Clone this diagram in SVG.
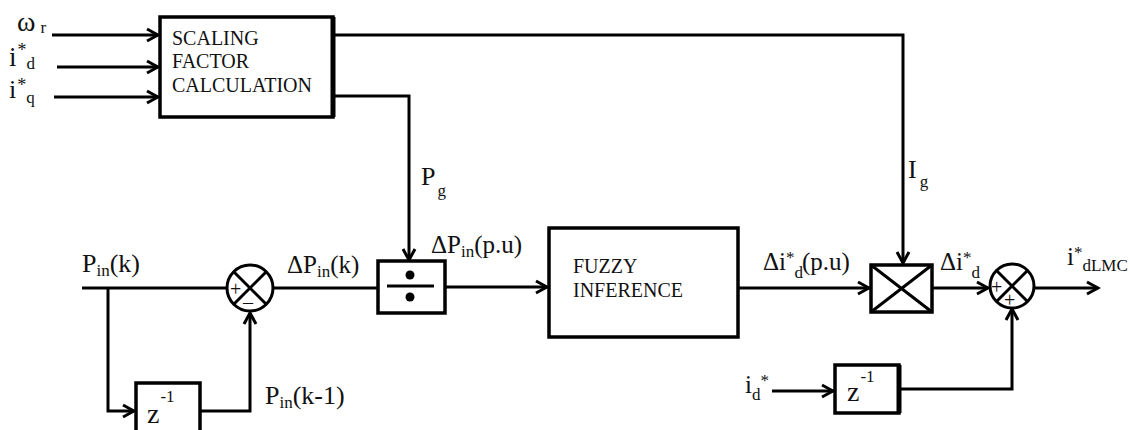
<svg xmlns="http://www.w3.org/2000/svg" width="1130" height="430" viewBox="0 0 1130 430" font-family="Liberation Serif, Times New Roman, Times, DejaVu Serif, serif">
<defs>
<marker id="arr" markerUnits="userSpaceOnUse" markerWidth="16" markerHeight="16" refX="13" refY="8" orient="auto" viewBox="0 0 16 16">
<path d="M2,2 L13,8 L2,14" fill="none" stroke="#000" stroke-width="3" stroke-linejoin="miter"/>
</marker>
</defs>
<style>
text{font-family:Liberation Serif, Times New Roman, Times, DejaVu Serif, serif;fill:#111}
.box{fill:#fff;stroke:#000;stroke-width:3.5}
.ln{fill:none;stroke:#000;stroke-width:3}
.blk{font-size:20px}
</style>
<rect width="1130" height="430" fill="#fff"/>
<g id="connectors">
<path class="ln" d="M52,35 H158" marker-end="url(#arr)"/>
<path class="ln" d="M57,67 H158" stroke-width="5" marker-end="url(#arr)"/>
<path class="ln" d="M54,97 H158" marker-end="url(#arr)"/>
<path class="ln" d="M333,35 H903 V263" marker-end="url(#arr)"/>
<path class="ln" d="M333,96 H409 V260" stroke-width="3.5" marker-end="url(#arr)"/>
<path class="ln" d="M82,288 H227"/>
<path class="ln" d="M108,288 V411 H134" marker-end="url(#arr)"/>
<path class="ln" d="M200,411 H250 V313" marker-end="url(#arr)"/>
<path class="ln" d="M273,288 H378"/>
<path class="ln" d="M445,287 H547" marker-end="url(#arr)"/>
<path class="ln" d="M738,288 H869" marker-end="url(#arr)"/>
<path class="ln" d="M932,288 H988" marker-end="url(#arr)"/>
<path class="ln" d="M1035,288 H1098" marker-end="url(#arr)"/>
<path class="ln" d="M772,391 H833" marker-end="url(#arr)"/>
<path class="ln" d="M899,389 H1012 V309" marker-end="url(#arr)"/>
</g>
<g id="inputs">
<text x="17" y="31" font-size="28px">ω<tspan font-size="17px" dx="5" dy="2">r</tspan></text>
<text x="9" y="66" font-size="27px">i<tspan font-size="18px" dx="1" dy="-10">*</tspan><tspan font-size="17px" dx="0" dy="13">d</tspan></text>
<text x="9" y="98" font-size="26px">i<tspan font-size="18px" dx="1" dy="-7">*</tspan><tspan font-size="17px" dx="0" dy="12">q</tspan></text>
</g>
<g id="scaling">
<rect class="box" x="160" y="17" width="173" height="100"/>
<line x1="333" y1="17" x2="333" y2="117" stroke="#000" stroke-width="5"/>
<text class="blk" x="172" y="45">SCALING</text>
<text class="blk" x="172" y="68">FACTOR</text>
<text class="blk" x="172" y="92">CALCULATION</text>
</g>
<g id="subtractor">
<circle cx="250" cy="288" r="23" fill="#fff" stroke="#000" stroke-width="3"/>
<path class="ln" d="M234,272 L266,304 M266,272 L234,304"/>
<text x="230" y="296" font-size="20px">+</text>
<text x="243" y="309" font-size="20px">–</text>
</g>
<g id="delay1">
<rect class="box" x="136" y="383" width="64" height="50"/>
<text x="147" y="423" font-size="28px">z<tspan font-size="17px" dx="1" dy="-21">-1</tspan></text>
</g>
<g id="divider">
<rect class="box" x="378" y="261" width="67" height="52"/>
<line x1="387" y1="286" x2="434" y2="286" stroke="#000" stroke-width="3"/>
<circle cx="410" cy="275" r="4.5" fill="#000"/>
<circle cx="410" cy="297" r="4.5" fill="#000"/>
</g>
<g id="fuzzy">
<rect class="box" x="549" y="228" width="189" height="109"/>
<text class="blk" x="573" y="273" font-size="21px">FUZZY</text>
<text class="blk" x="573" y="297" font-size="21px">INFERENCE</text>
</g>
<g id="multiplier">
<rect class="box" x="871" y="265" width="61" height="47"/>
<path class="ln" d="M871,265 L932,312 M932,265 L871,312"/>
</g>
<g id="summer">
<circle cx="1012" cy="286" r="22" fill="#fff" stroke="#000" stroke-width="3"/>
<path class="ln" d="M996,270 L1028,302 M1028,270 L996,302"/>
<text x="991" y="294" font-size="20px">+</text>
<text x="1004" y="307" font-size="20px">+</text>
</g>
<g id="delay2">
<rect class="box" x="835" y="365" width="64" height="48"/>
<line x1="899" y1="365" x2="899" y2="413" stroke="#000" stroke-width="5"/>
<text x="847" y="401" font-size="28px">z<tspan font-size="17px" dx="1" dy="-19">-1</tspan></text>
</g>
<g id="labels">
<text x="82" y="272" font-size="26px">P<tspan font-size="17px" dy="4">in</tspan><tspan dy="-4">(k)</tspan></text>
<text x="287" y="273" font-size="25px">ΔP<tspan font-size="17px" dy="4">in</tspan><tspan dy="-4">(k)</tspan></text>
<text x="265" y="404" font-size="26px">P<tspan font-size="17px" dy="4">in</tspan><tspan dy="-4">(k-1)</tspan></text>
<text x="421" y="185" font-size="26px">P<tspan font-size="17px" dx="2" dy="11">g</tspan></text>
<text x="431" y="253" font-size="25px">ΔP<tspan font-size="17px" dy="4">in</tspan><tspan dy="-4">(p.u)</tspan></text>
<text x="908" y="178" font-size="26px">I<tspan font-size="17px" dx="3" dy="9">g</tspan></text>
<text x="763" y="270" font-size="25px">Δi<tspan font-size="17px" dy="-7">*</tspan><tspan font-size="17px" dy="15">d</tspan><tspan dx="-1" dy="-8">(p.u)</tspan></text>
<text x="940" y="270" font-size="25px">Δi<tspan font-size="17px" dy="-7">*</tspan><tspan font-size="17px" dy="15">d</tspan></text>
<text x="1067" y="265" font-size="25px">i<tspan font-size="17px" dy="-7">*</tspan><tspan font-size="17px" dy="13">dLMC</tspan></text>
<text x="745" y="393" font-size="25px">i<tspan font-size="17px" dy="7">d</tspan><tspan font-size="17px" dy="-14">*</tspan></text>
</g>
</svg>
